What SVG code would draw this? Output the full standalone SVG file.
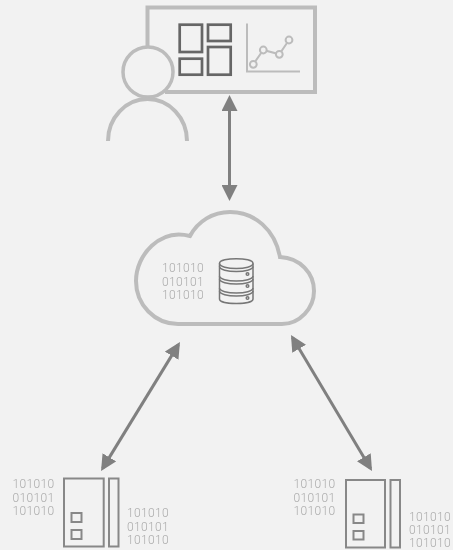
<svg xmlns="http://www.w3.org/2000/svg" width="453" height="550" viewBox="0 0 453 550">
<style>
.l{fill:none;stroke:#bcbcbc;stroke-width:4}
.d{fill:none;stroke:#666;stroke-width:2.7}
.a{fill:none;stroke:#bcbcbc;stroke-width:2}
.s{fill:none;stroke:#777;stroke-width:1.5}
.v{fill:none;stroke:#888;stroke-width:2}
.c{stroke:#808080;stroke-width:3;fill:none;marker-start:url(#h);marker-end:url(#h)}
text{font-family:"Roboto","Liberation Sans",sans-serif;font-weight:300;font-size:12px;fill:#aaa;letter-spacing:.35px;filter:url(#g)}
</style>
<defs>
<filter id="g" x="-5%" y="-20%" width="110%" height="140%"><feOffset dx="0" dy="0"/></filter>
<marker id="h" markerUnits="userSpaceOnUse" markerWidth="17" markerHeight="16" refX="13" refY="8" orient="auto-start-reverse"><path d="M0 0L16 8L0 16Z" fill="#808080"/></marker>
</defs>
<rect width="453" height="550" fill="#f2f2f2"/>
<g id="connectors">
<path class="c" d="M229.500 98V198"/>
<path class="c" d="M178.400 344.600L102.600 468.400"/>
<path class="c" d="M292.500 337.600L370.500 468.400"/>
</g>
<g id="dashboard">
<path class="l" d="M147.500 47V7.500H315V92H165"/>
<rect class="d" x="179.700" y="24.700" width="22.300" height="27.300"/>
<rect class="d" x="208" y="24.700" width="22.700" height="16.300"/>
<rect class="d" x="179.700" y="58.700" width="22.300" height="16"/>
<rect class="d" x="208" y="47" width="22.700" height="27.700"/>
<path class="a" d="M247 23.500V71.500H300"/>
<path class="a" d="M253.300 64.300L263.300 50L279.300 54.300L289 40"/>
<g fill="#f2f2f2" stroke="#bcbcbc" stroke-width="2">
<circle cx="253.300" cy="64.300" r="3.400"/><circle cx="263.300" cy="50" r="3.400"/><circle cx="279.300" cy="54.300" r="3.400"/><circle cx="289" cy="40" r="3.400"/>
</g>
</g>
<g id="user">
<circle cx="148" cy="72" r="25" fill="#f2f2f2" stroke="#bcbcbc" stroke-width="3.500"/>
<path class="l" d="M108 141A39.500 42 0 0 1 187 141"/>
</g>
<g id="cloud">
<path class="l" d="M178 324H282C300 324 314 308 314 291C314 273 300 258 280 257C275 230 255 212 230 212C213 212 198 221 190 236C160 228 136 255 136 281C136 305 155 324 178 324Z"/>
<text x="162" y="272">101010</text><text x="162" y="285.500">010101</text><text x="162" y="299">101010</text>
<path class="s" d="M219.500 263.500C219.500 257 253 257 253 263.500V299C253 305 219.500 305 219.500 299Z"/>
<path class="s" d="M219.500 263.500C219.500 270 253 270 253 263.500M219.500 266.500C219.500 273 253 273 253 266.500M219.500 276C219.500 282.500 253 282.500 253 276M219.500 279C219.500 285.500 253 285.500 253 279M219.500 288C219.500 294.500 253 294.500 253 288M219.500 291C219.500 297.500 253 297.500 253 291"/>
<circle class="s" cx="247.500" cy="274" r="1.300"/><circle class="s" cx="247.500" cy="286" r="1.300"/><circle class="s" cx="247.500" cy="298" r="1.300"/>
</g>
<g id="device-left">
<rect class="v" x="64" y="478.500" width="39.700" height="68"/>
<rect class="v" x="109" y="478.500" width="9.500" height="68"/>
<rect class="v" x="71.500" y="513" width="10" height="9"/>
<rect class="v" x="71.500" y="530" width="10" height="9"/>
<text x="12.500" y="488.300">101010</text><text x="12.500" y="501.700">010101</text><text x="12.500" y="514.700">101010</text>
<text x="127" y="517.300">101010</text><text x="127" y="530.700">010101</text><text x="127" y="543.500">101010</text>
</g>
<g id="device-right">
<rect class="v" x="346" y="480" width="39" height="67.500"/>
<rect class="v" x="390.500" y="480" width="9.500" height="67.500"/>
<rect class="v" x="353.500" y="514.500" width="10" height="8.500"/>
<rect class="v" x="353.500" y="531" width="10" height="8.500"/>
<text x="293.500" y="488.300">101010</text><text x="293.500" y="501.700">010101</text><text x="293.500" y="514.700">101010</text>
<text x="409" y="521">101010</text><text x="409" y="534">010101</text><text x="409" y="546.500">101010</text>
</g>
</svg>
